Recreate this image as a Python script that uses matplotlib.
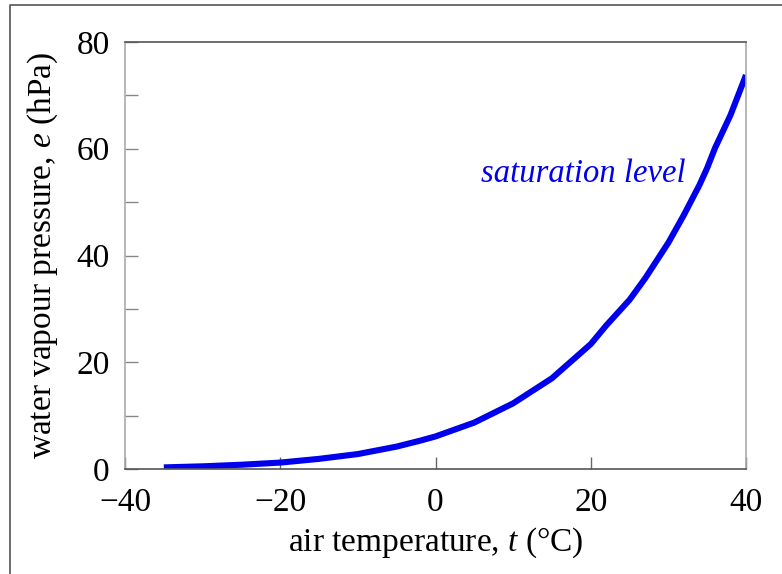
import matplotlib
matplotlib.use("Agg")
import matplotlib.pyplot as plt
from matplotlib.lines import Line2D

plt.rcParams['font.family'] = ['Liberation Serif', 'DejaVu Serif']
plt.rcParams['mathtext.fontset'] = 'custom'
plt.rcParams['mathtext.rm'] = 'Liberation Serif'
plt.rcParams['mathtext.it'] = 'Liberation Serif:italic'

temperature = [-35, -30, -25, -20, -15, -10, -5, -2, 0, 5, 10, 15, 20, 22, 25, 27,
               30, 32, 34, 35, 36, 38, 40]
vapour_pressure = [0.3, 0.5, 0.8, 1.2, 1.9, 2.8, 4.2, 5.3, 6.1, 8.7, 12.3, 17.0,
                   23.4, 26.9, 31.7, 35.7, 42.4, 47.6, 53.2, 56.4, 60.1, 66.3, 73.8]
x_ticks = [-40, -20, 0, 20, 40]
x_labels = ['\u221240', '\u221220', '0', '20', '40']
y_ticks = [0, 20, 40, 60, 80]
y_minor = [10, 30, 50, 70]

fig = plt.figure(figsize=(7.82, 5.74), dpi=100)
ax = fig.add_axes([125/782, 105/574, 621/782, 427/574])

ax.plot(temperature, vapour_pressure, color='#0000EE', lw=4.4, solid_capstyle='butt')
ax.set_xlim(-40, 40)
ax.set_ylim(0, 80)

ax.set_xticks(x_ticks)
ax.set_xticklabels(x_labels)
ax.set_yticks(y_ticks)
ax.set_yticks(y_minor, minor=True)

ax.tick_params(axis='both', which='both', direction='in', length=9, width=1,
               colors='#888888', labelcolor='black', labelsize=24)
ax.tick_params(axis='x', which='major', colors='#666666', labelcolor='black', pad=13.5)
ax.tick_params(axis='y', which='major', pad=11)

for side, c in [('top', '#555555'), ('bottom', '#555555'), ('left', '#aaaaaa'), ('right', '#aaaaaa')]:
    ax.spines[side].set_color(c)
    ax.spines[side].set_linewidth(1.2)

ax.set_xlabel(r'air temperature, $t$ (°C)', fontsize=24, labelpad=5)
ax.set_ylabel(r'water vapour pressure, $e$ (hPa)', fontsize=24, labelpad=12)

ax.text(5.9, 55.3, 'saturation level', color='#0000EE', fontsize=23.5,
        style='italic', ha='left', va='center')

# outer frame
fig.add_artist(Line2D([10/782, 10/782, 1.0], [0.0, 1 - 5/574, 1 - 5/574],
                      transform=fig.transFigure, color='#555555', lw=1.2))

fig.savefig('out.png', dpi=100)
